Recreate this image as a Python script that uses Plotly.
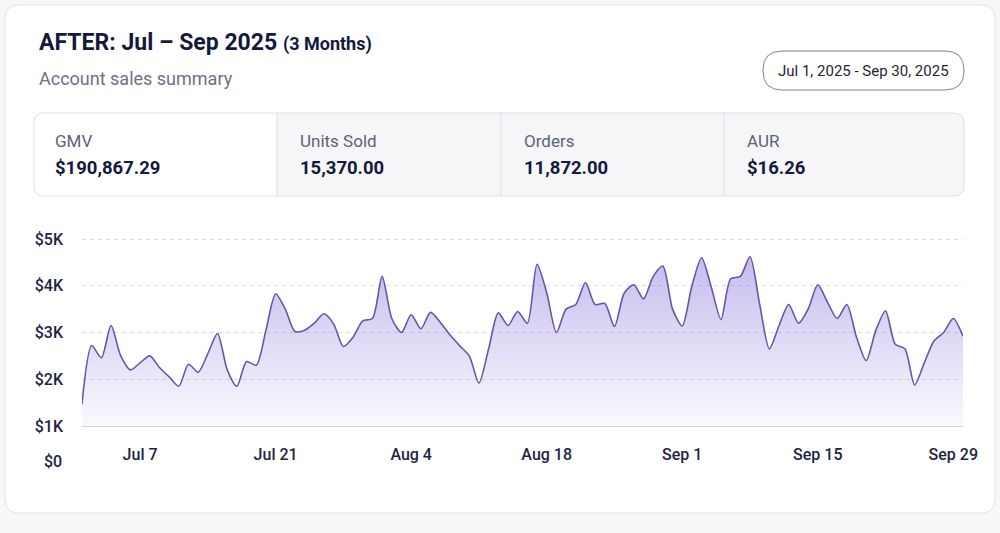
import pandas as pd
import plotly.graph_objects as go

# ---------------- data ----------------
start_date = "2025-07-01"
end_date = "2025-09-30"
daily_gmv = [
    1470, 2720, 2460, 3150, 2500, 2200, 2350, 2500, 2250, 2050,
    1850, 2320, 2150, 2550, 2980, 2200, 1850, 2380, 2300, 3050,
    3830, 3500, 3020, 3050, 3200, 3400, 3180, 2700, 2900, 3250,
    3300, 4200, 3300, 3000, 3380, 3080, 3430, 3220, 2950, 2720,
    2500, 1920, 2650, 3420, 3150, 3450, 3200, 4460, 3850, 3000,
    3500, 3600, 4070, 3600, 3620, 3130, 3840, 4020, 3720, 4200,
    4420, 3500, 3140, 4000, 4600, 3970, 3280, 4150, 4200, 4620,
    3600, 2650, 3150, 3600, 3200, 3500, 4020, 3650, 3300, 3600,
    2900, 2400, 3050, 3460, 2750, 2650, 1880, 2350, 2820, 3000,
    3300, 2920,
]
x_tick_dates = ["2025-07-07", "2025-07-21", "2025-08-04", "2025-08-18",
                "2025-09-01", "2025-09-15", "2025-09-29"]
x_tick_labels = ["Jul 7", "Jul 21", "Aug 4", "Aug 18", "Sep 1", "Sep 15", "Sep 29"]
y_tick_values = [1000, 2000, 3000, 4000, 5000]
y_tick_labels = ["$1K", "$2K", "$3K", "$4K", "$5K"]

kpi_labels = ["GMV", "Units Sold", "Orders", "AUR"]
kpi_values = ["$190,867.29", "15,370.00", "11,872.00", "$16.26"]

title_main = "AFTER: Jul – Sep 2025"
title_suffix = "(3 Months)"
subtitle = "Account sales summary"
date_range_label = "Jul 1, 2025 - Sep 30, 2025"

dates = pd.date_range(start_date, end_date, freq="D")

# ---------------- geometry helpers (pixels -> paper) ----------------
W, H = 1000, 533
FONT = "Roboto"
NAVY = "#141a3d"
TICK = "#1e2442"


def px(x):
    return x / W


def py(y):
    return (H - y) / H


def rounded_rect(x0, y0, x1, y1, r):
    # pixel coordinates, y downward
    pts = [
        f"M {px(x0 + r)},{py(y0)}",
        f"L {px(x1 - r)},{py(y0)}",
        f"Q {px(x1)},{py(y0)} {px(x1)},{py(y0 + r)}",
        f"L {px(x1)},{py(y1 - r)}",
        f"Q {px(x1)},{py(y1)} {px(x1 - r)},{py(y1)}",
        f"L {px(x0 + r)},{py(y1)}",
        f"Q {px(x0)},{py(y1)} {px(x0)},{py(y1 - r)}",
        f"L {px(x0)},{py(y0 + r)}",
        f"Q {px(x0)},{py(y0)} {px(x0 + r)},{py(y0)}",
        "Z",
    ]
    return " ".join(pts)


fig = go.Figure()

fig.add_trace(go.Scatter(
    x=dates, y=daily_gmv, mode="lines",
    line=dict(color="#6456a8", width=1.6, shape="spline", smoothing=0.75),
    fill="tozeroy",
    fillgradient=dict(
        type="vertical",
        start=1000, stop=4700,
        colorscale=[[0, "rgba(130,105,215,0.04)"], [1, "rgba(130,105,215,0.46)"]],
    ),
    hoverinfo="skip",
    showlegend=False,
))

shapes = []
# outer card
shapes.append(dict(type="path", xref="paper", yref="paper", layer="below",
                   path=rounded_rect(5, 5, 995, 513, 14),
                   fillcolor="#ffffff", line=dict(color="#e3e4ea", width=1)))
# date pill
shapes.append(dict(type="path", xref="paper", yref="paper", layer="below",
                   path=rounded_rect(763, 51, 964, 90, 19),
                   fillcolor="#ffffff", line=dict(color="#7c8294", width=1)))
# KPI box
shapes.append(dict(type="path", xref="paper", yref="paper", layer="below",
                   path=rounded_rect(34, 113, 964, 196, 10),
                   fillcolor="#f6f6f9", line=dict(color="#dcdee7", width=1)))
# first KPI cell white
shapes.append(dict(type="path", xref="paper", yref="paper", layer="below",
                   path=(f"M {px(277)},{py(113.5)} L {px(44)},{py(113.5)} "
                         f"Q {px(34.5)},{py(113.5)} {px(34.5)},{py(123)} "
                         f"L {px(34.5)},{py(186)} Q {px(34.5)},{py(195.5)} {px(44)},{py(195.5)} "
                         f"L {px(277)},{py(195.5)} Z"),
                   fillcolor="#ffffff", line=dict(width=0)))
kpi_x = [55, 300, 524, 747]
for xd in [277, 501, 724]:
    shapes.append(dict(type="line", xref="paper", yref="paper", layer="below",
                       x0=px(xd), x1=px(xd), y0=py(113), y1=py(196),
                       line=dict(color="#dcdee7", width=1)))

annotations = []
annotations.append(dict(
    xref="paper", yref="paper", x=px(37), y=py(42), xanchor="left", yanchor="middle",
    showarrow=False,
    text=f"<b>{title_main}</b> <b><span style='font-size:18px'>{title_suffix}</span></b>",
    font=dict(family=FONT, size=23, color=NAVY),
))
annotations.append(dict(
    xref="paper", yref="paper", x=px(37), y=py(79), xanchor="left", yanchor="middle",
    showarrow=False, text=subtitle,
    font=dict(family=FONT, size=18, color="#6b7283"),
))
annotations.append(dict(
    xref="paper", yref="paper", x=px(863.5), y=py(71), xanchor="center", yanchor="middle",
    showarrow=False, text=date_range_label,
    font=dict(family=FONT, size=15, color="#1f2433"),
))
for xk, lab, val in zip(kpi_x, kpi_labels, kpi_values):
    annotations.append(dict(
        xref="paper", yref="paper", x=px(xk - 2), y=py(141), xanchor="left", yanchor="middle",
        showarrow=False, text=lab, font=dict(family=FONT, size=17, color="#5b6376"),
    ))
    annotations.append(dict(
        xref="paper", yref="paper", x=px(xk - 2), y=py(168), xanchor="left", yanchor="middle",
        showarrow=False, text=f"<b>{val}</b>", font=dict(family=FONT, size=18.5, color=NAVY),
    ))
# $0 label below the axis
annotations.append(dict(
    xref="paper", yref="paper", x=px(64), y=py(461), xanchor="right", yanchor="middle",
    showarrow=False, text="$0", font=dict(family=FONT, size=16, color=TICK, weight=500),
))

fig.update_layout(
    width=W, height=H,
    margin=dict(l=0, r=0, t=0, b=0),
    paper_bgcolor="#f7f7f9",
    plot_bgcolor="rgba(0,0,0,0)",
    shapes=shapes,
    annotations=annotations,
    font=dict(family=FONT, color=TICK),
    xaxis=dict(
        domain=[px(82), px(963)],
        range=[dates[0], dates[-1]],
        tickvals=x_tick_dates, ticktext=x_tick_labels,
        showgrid=False, zeroline=False,
        showline=True, linecolor="#d3d4de", linewidth=1,
        ticks="", ticklabelstandoff=14,
        tickfont=dict(family=FONT, size=16, color=TICK, weight=500),
        automargin=False, fixedrange=True,
    ),
    yaxis=dict(
        domain=[py(426), py(229.65)],
        range=[1000, 5200],
        tickvals=y_tick_values, ticktext=y_tick_labels,
        showgrid=True, gridcolor="#dcdce6", griddash="4px,4px", gridwidth=1,
        zeroline=False, showline=False,
        ticks="", ticklabelstandoff=18,
        tickfont=dict(family=FONT, size=16, color=TICK, weight=500),
        automargin=False, fixedrange=True,
    ),
)

fig.write_html(
    "out.html",
    config={"displayModeBar": False},
    post_script="document.body.style.margin='0px';document.body.style.overflow='hidden';",
)
